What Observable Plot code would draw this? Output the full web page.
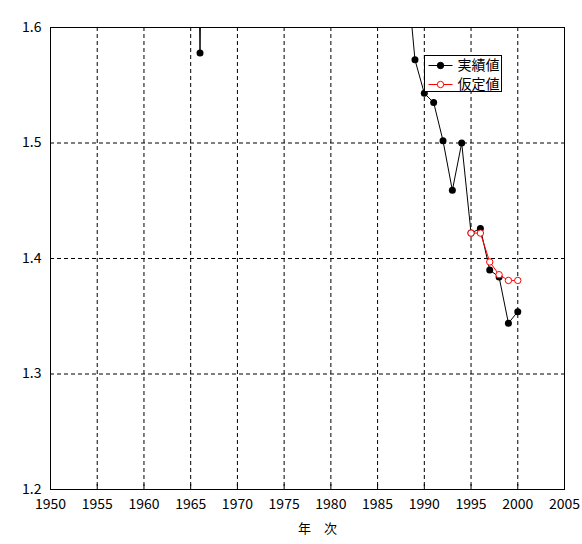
<!DOCTYPE html>
<html><head><meta charset="utf-8">
<script src="https://cdn.jsdelivr.net/npm/d3@7"></script>
<script src="https://cdn.jsdelivr.net/npm/@observablehq/plot@0.6"></script>
<style>body{margin:0;background:#fff} #chart{position:relative;width:582px;height:544px}</style>
</head><body><div id="chart"></div>
<script>
// 実績値 (actual)
const actualYears = [1950,1951,1952,1953,1954,1955,1956,1957,1958,1959,1960,1961,1962,1963,1964,1965,1966,1967,1968,1969,1970,1971,1972,1973,1974,1975,1976,1977,1978,1979,1980,1981,1982,1983,1984,1985,1986,1987,1988,1989,1990,1991,1992,1993,1994,1995,1996,1997,1998,1999,2000];
const actualValues = [3.65,3.26,2.98,2.69,2.48,2.37,2.22,2.04,2.11,2.04,2.00,1.96,1.98,2.00,2.05,2.14,1.578,2.23,2.13,2.13,2.13,2.16,2.14,2.14,2.05,1.91,1.85,1.80,1.79,1.77,1.75,1.74,1.77,1.80,1.81,1.76,1.72,1.69,1.66,1.572,1.543,1.535,1.502,1.459,1.50,1.422,1.426,1.39,1.384,1.344,1.354];
// 仮定値 (assumed)
const assumedYears = [1995,1996,1997,1998,1999,2000];
const assumedValues = [1.422,1.422,1.397,1.386,1.381,1.381];
const xTicks = [1950,1955,1960,1965,1970,1975,1980,1985,1990,1995,2000,2005];
const yTicks = [1.2,1.3,1.4,1.5,1.6];
const legendLabels = ["実績値","仮定値"];
const xLabel = "年　次";

const actual = actualYears.map((x,i)=>({x, y: actualValues[i]}));
const assumed = assumedYears.map((x,i)=>({x, y: assumedValues[i]}));

const font = "'Noto Sans CJK JP', 'Noto Sans', sans-serif";
const plot = Plot.plot({
  width: 582, height: 544,
  marginLeft: 50, marginRight: 18, marginTop: 27, marginBottom: 55,
  x: {domain: [1950, 2005]},
  y: {domain: [1.2, 1.6]},
  style: {fontFamily: font, fontSize: "14px", color: "#000", background: "#fff"},
  marks: [
    Plot.ruleX(xTicks.slice(1,-1), {stroke:"#000", strokeDasharray:"4,3"}),
    Plot.ruleY(yTicks.slice(1,-1), {stroke:"#000", strokeDasharray:"4,3"}),
    Plot.tickX(xTicks, {x: d=>d, insetTop: 457, stroke:"#000"}),
    Plot.frame({stroke:"#000"}),
    Plot.axisX(xTicks, {tickSize:0, tickPadding:10, tickFormat: d=>String(d), label:null}),
    Plot.axisY(yTicks, {tickSize:0, tickPadding:9, tickFormat: d=>d.toFixed(1), label:null}),
    Plot.line(actual, {x:"x", y:"y", stroke:"#000", strokeWidth:1, clip:true}),
    Plot.dot(actual, {x:"x", y:"y", r:3.5, fill:"#000", clip:true}),
    Plot.line(assumed, {x:"x", y:"y", stroke:"#ff0000", strokeWidth:1, clip:true}),
    Plot.dot(assumed, {x:"x", y:"y", r:3.2, fill:"#fff", stroke:"#ff0000", strokeWidth:1, clip:true}),
    Plot.text([xLabel], {frameAnchor:"bottom", dy:43, dx:10, text:d=>d, fontSize:13})
  ]
});
document.getElementById("chart").appendChild(plot);

// legend
const svg = d3.select(plot);
const g = svg.append("g").attr("transform","translate(424.5,55.5)");
g.append("rect").attr("width",77).attr("height",36).attr("fill","#fff").attr("stroke","#000");
const styles = [{stroke:"#000", fill:"#000"}, {stroke:"#ff0000", fill:"#fff"}];
legendLabels.forEach((lab,i)=>{
  const y = 10 + i*19;
  g.append("line").attr("x1",4).attr("x2",28).attr("y1",y).attr("y2",y).attr("stroke",styles[i].stroke);
  g.append("circle").attr("cx",16).attr("cy",y).attr("r",3.2).attr("fill",styles[i].fill).attr("stroke",styles[i].stroke);
  g.append("text").attr("x",33).attr("y",y).attr("dy","0.35em").attr("text-anchor","start")
    .attr("font-family",font).attr("font-size",14).attr("fill","#000").text(lab);
});
</script>
</body></html>
